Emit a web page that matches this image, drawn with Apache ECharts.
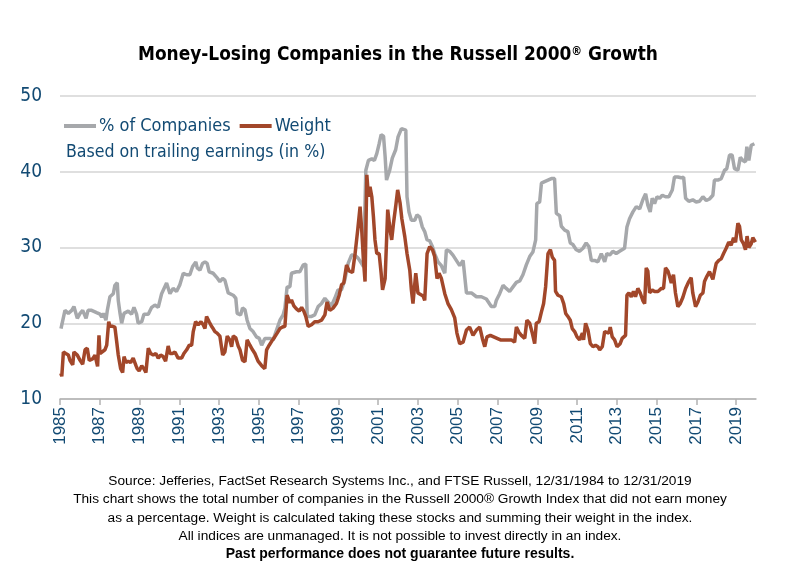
<!DOCTYPE html>
<html>
<head>
<meta charset="utf-8">
<script src="https://cdn.jsdelivr.net/npm/echarts@6/dist/echarts.min.js"></script>
<style>html,body{margin:0;padding:0;background:#fff}#c{width:800px;height:587px}</style>
</head>
<body>
<div id="c"></div>
<script>
// % of Companies: decimal year, value (%)
const pctYears = [1985.05,1985.25,1985.42,1985.59,1985.70,1985.87,1986.01,1986.14,1986.31,1986.41,1986.59,1986.84,1987.01,1987.10,1987.18,1987.31,1987.38,1987.51,1987.68,1987.76,1987.88,1987.93,1988.02,1988.10,1988.22,1988.43,1988.60,1988.72,1988.85,1988.93,1989.11,1989.22,1989.44,1989.61,1989.77,1989.94,1990.11,1990.36,1990.53,1990.69,1990.86,1991.03,1991.20,1991.37,1991.53,1991.67,1991.83,1991.90,1992.04,1992.17,1992.29,1992.40,1992.50,1992.70,1992.87,1993.04,1993.18,1993.29,1993.46,1993.71,1993.84,1993.91,1994.08,1994.18,1994.30,1994.41,1994.55,1994.71,1994.88,1995.02,1995.14,1995.30,1995.55,1995.64,1995.72,1995.89,1996.06,1996.22,1996.31,1996.42,1996.56,1996.64,1996.89,1997.06,1997.23,1997.36,1997.43,1997.65,1997.81,1997.98,1998.15,1998.32,1998.48,1998.65,1998.82,1998.98,1999.15,1999.32,1999.49,1999.66,1999.82,1999.99,2000.16,2000.26,2000.38,2000.51,2000.68,2000.81,2000.93,2001.05,2001.15,2001.27,2001.35,2001.42,2001.58,2001.71,2001.88,2002.00,2002.17,2002.39,2002.45,2002.55,2002.67,2002.84,2002.95,2003.09,2003.22,2003.34,2003.46,2003.59,2003.73,2003.84,2004.01,2004.18,2004.35,2004.43,2004.60,2004.76,2004.93,2005.10,2005.27,2005.44,2005.69,2005.94,2006.19,2006.44,2006.69,2006.86,2006.94,2007.11,2007.28,2007.44,2007.61,2007.78,2007.95,2008.12,2008.28,2008.45,2008.62,2008.78,2008.92,2008.98,2009.12,2009.21,2009.37,2009.54,2009.71,2009.87,2009.96,2010.13,2010.21,2010.38,2010.54,2010.66,2010.79,2010.96,2011.13,2011.30,2011.46,2011.60,2011.72,2011.88,2012.05,2012.22,2012.39,2012.50,2012.64,2012.80,2012.97,2013.14,2013.39,2013.51,2013.64,2013.81,2013.98,2014.15,2014.31,2014.45,2014.56,2014.68,2014.78,2014.90,2015.02,2015.15,2015.29,2015.45,2015.62,2015.79,2015.90,2016.07,2016.24,2016.36,2016.46,2016.62,2016.82,2016.99,2017.16,2017.33,2017.50,2017.66,2017.83,2017.91,2018.08,2018.25,2018.42,2018.53,2018.67,2018.80,2018.92,2019.09,2019.21,2019.34,2019.47,2019.54,2019.64,2019.76,2019.92];
const pctValues = [19.3,21.7,21.3,21.7,22.2,20.65,21.3,21.7,20.65,21.7,21.7,21.4,21.2,20.8,21.3,20.4,21.7,23.5,23.9,25.0,25.35,23.0,21.3,20.0,21.3,21.6,21.2,22.1,21.2,20.0,20.2,21.2,21.2,22.1,22.4,22.1,23.9,25.3,23.9,24.6,24.2,25.1,26.6,26.4,26.4,27.5,28.1,27.3,27.0,27.9,28.1,27.9,26.8,26.6,26.1,25.5,25.9,25.7,24.0,23.7,23.3,21.3,21.1,22.0,21.8,20.4,19.3,18.9,18.2,18.0,17.1,18.0,18.0,18.2,17.8,19.1,20.4,21.1,22.0,24.8,24.8,26.6,26.8,26.8,27.7,27.8,20.9,20.9,21.1,22.2,22.6,23.3,22.8,22.3,23.3,24.4,24.4,25.7,27.9,29.0,29.0,28.6,27.9,27.5,40.2,41.5,41.7,41.5,42.4,43.7,44.9,44.7,42.0,38.9,40.2,41.8,42.9,44.6,45.7,45.5,36.7,34.7,33.6,33.6,34.3,34.0,32.7,32.1,31.0,30.9,30.1,29.2,28.1,27.6,26.6,29.7,29.5,29.0,28.3,27.6,28.3,24.0,24.0,23.5,23.5,23.2,22.2,22.2,23.0,23.9,25.0,24.6,24.2,24.8,25.4,25.6,26.4,27.7,28.8,29.4,31.0,35.8,36.0,38.5,38.7,38.9,39.1,39.1,34.5,34.2,32.8,32.3,32.1,30.6,30.4,29.7,29.5,29.9,30.6,30.1,28.3,28.3,28.1,29.2,28.1,29.2,29.0,29.5,29.2,29.5,29.9,32.7,33.8,34.7,35.4,35.1,36.3,37.1,35.6,34.7,36.5,35.8,36.7,36.5,36.9,36.7,36.7,37.6,39.3,39.3,39.2,39.3,36.5,36.1,36.3,36.0,36.1,36.7,36.2,36.4,36.9,38.9,38.9,39.1,40.2,40.4,42.2,42.2,40.4,40.2,41.9,41.5,41.3,43.3,41.5,43.5,43.7];

// Weight: decimal year, value (%)
const wtYears = [1985.04,1985.09,1985.17,1985.29,1985.42,1985.50,1985.64,1985.70,1985.87,1986.01,1986.14,1986.26,1986.37,1986.47,1986.64,1986.76,1986.84,1986.89,1986.96,1987.01,1987.10,1987.26,1987.35,1987.45,1987.51,1987.65,1987.76,1987.85,1987.93,1988.05,1988.15,1988.22,1988.32,1988.43,1988.55,1988.68,1988.82,1988.88,1988.98,1989.11,1989.22,1989.32,1989.44,1989.56,1989.69,1989.82,1989.94,1990.06,1990.19,1990.31,1990.44,1990.53,1990.66,1990.78,1990.94,1991.12,1991.23,1991.37,1991.50,1991.62,1991.70,1991.82,1991.95,1992.09,1992.20,1992.29,1992.37,1992.50,1992.62,1992.70,1992.79,1992.90,1993.04,1993.18,1993.29,1993.41,1993.54,1993.63,1993.71,1993.84,1993.96,1994.05,1994.18,1994.30,1994.41,1994.55,1994.68,1994.80,1994.96,1995.14,1995.30,1995.39,1995.52,1995.69,1995.80,1995.92,1996.06,1996.19,1996.31,1996.42,1996.56,1996.64,1996.76,1996.89,1997.03,1997.15,1997.26,1997.36,1997.48,1997.65,1997.81,1997.98,1998.15,1998.32,1998.43,1998.57,1998.73,1998.90,1999.04,1999.16,1999.27,1999.41,1999.54,1999.71,1999.84,1999.97,2000.09,2000.18,2000.26,2000.34,2000.43,2000.51,2000.59,2000.68,2000.76,2000.84,2000.93,2001.05,2001.15,2001.22,2001.35,2001.48,2001.60,2001.68,2001.77,2001.88,2001.98,2002.10,2002.19,2002.27,2002.34,2002.45,2002.59,2002.67,2002.75,2002.89,2003.00,2003.13,2003.26,2003.34,2003.46,2003.59,2003.73,2003.84,2003.96,2004.06,2004.18,2004.35,2004.51,2004.68,2004.85,2004.96,2005.10,2005.27,2005.44,2005.60,2005.77,2005.94,2006.11,2006.24,2006.36,2006.47,2006.64,2006.81,2006.98,2007.15,2007.31,2007.53,2007.70,2007.86,2007.95,2008.08,2008.20,2008.37,2008.48,2008.62,2008.75,2008.87,2008.95,2009.09,2009.21,2009.32,2009.42,2009.54,2009.66,2009.76,2009.87,2009.92,2010.04,2010.21,2010.33,2010.43,2010.54,2010.66,2010.76,2010.88,2011.00,2011.13,2011.27,2011.33,2011.43,2011.55,2011.67,2011.80,2011.93,2012.05,2012.14,2012.27,2012.39,2012.47,2012.60,2012.67,2012.77,2012.89,2013.01,2013.11,2013.17,2013.27,2013.44,2013.51,2013.61,2013.73,2013.84,2013.94,2014.06,2014.18,2014.31,2014.40,2014.48,2014.56,2014.65,2014.78,2014.90,2015.07,2015.24,2015.35,2015.45,2015.57,2015.65,2015.74,2015.85,2015.95,2016.07,2016.19,2016.32,2016.46,2016.62,2016.74,2016.82,2016.96,2017.08,2017.20,2017.33,2017.41,2017.53,2017.66,2017.83,2017.91,2018.00,2018.13,2018.25,2018.37,2018.50,2018.63,2018.75,2018.87,2018.97,2019.09,2019.17,2019.26,2019.37,2019.47,2019.55,2019.64,2019.76,2019.84,2019.97];
const wtValues = [13.4,13.0,16.2,16.0,15.8,15.1,14.5,16.2,15.8,15.1,14.6,16.5,16.7,15.1,15.3,15.8,16.0,14.3,18.4,16.0,15.8,16.5,17.1,20.2,19.6,19.6,19.5,17.6,15.8,14.0,13.5,15.6,14.8,15.0,14.8,15.4,14.4,14.0,13.7,14.4,14.0,13.5,16.7,16.0,15.8,16.0,15.4,15.8,15.6,15.0,17.0,16.0,16.0,16.2,15.4,15.4,16.0,16.5,17.1,17.1,18.9,20.2,19.8,20.2,19.8,19.3,20.9,20.2,19.6,19.3,18.9,18.7,18.3,15.8,16.2,18.3,17.8,16.9,18.3,18.1,17.0,16.5,15.1,14.9,17.8,17.1,16.5,16.0,15.0,14.4,14.0,16.5,17.1,17.8,18.2,18.7,19.3,19.5,19.6,23.7,22.7,23.1,22.3,21.9,21.6,22.1,21.6,20.9,19.6,19.8,20.2,20.2,20.4,21.1,22.8,21.7,22.0,22.6,23.7,25.1,25.3,27.7,26.9,26.7,29.2,32.3,35.4,32.0,28.3,25.5,39.6,36.7,38.0,36.7,34.1,31.0,29.2,29.2,26.6,24.4,25.9,35.0,32.3,31.0,33.2,35.4,37.6,35.9,33.8,34.0,31.4,29.2,27.0,24.4,22.6,26.6,24.0,23.8,23.6,23.0,29.2,30.1,29.7,28.8,25.9,26.6,25.9,23.9,22.6,21.8,20.7,18.7,17.3,17.5,19.1,19.5,18.4,19.1,19.5,18.0,16.9,18.2,18.4,18.2,18.0,17.8,17.8,17.8,17.8,17.5,19.5,18.8,18.4,18.0,20.4,20.0,18.7,17.3,20.0,20.2,21.5,22.6,24.8,29.2,29.7,28.7,28.3,24.2,23.7,23.5,22.6,21.3,20.9,20.4,19.3,18.9,18.2,17.8,18.7,17.8,20.0,19.1,17.3,16.9,17.1,16.9,16.5,16.9,18.9,18.7,18.7,19.5,18.2,17.8,16.9,16.7,17.3,18.0,18.4,23.7,24.0,23.5,24.2,23.5,24.6,24.0,23.0,22.6,27.3,26.9,24.0,24.4,24.2,24.2,24.6,24.6,27.3,26.9,26.2,25.3,26.4,24.0,22.2,22.6,23.4,24.6,25.5,26.0,24.0,22.2,22.8,23.7,24.0,25.5,26.2,26.8,25.8,26.8,27.9,28.3,28.5,29.2,29.9,30.7,30.3,31.3,30.7,33.2,32.8,31.0,30.5,29.7,31.5,30.0,30.5,31.3,30.7];

const xStartYear = 1985;
const xEndYear = 2020;
const yTicks = [10, 20, 30, 40, 50];
const seriesNames = ['% of Companies', 'Weight'];
const footerLines = [
  'Source: Jefferies, FactSet Research Systems Inc., and FTSE Russell, 12/31/1984 to 12/31/2019',
  'This chart shows the total number of companies in the Russell 2000\u00AE Growth Index that did not earn money',
  'as a percentage. Weight is calculated taking these stocks and summing their weight in the index.',
  'All indices are unmanaged. It is not possible to invest directly in an index.'
];
const footerBold = 'Past performance does not guarantee future results.';

const blue = '#124a73';
const cond = '"DejaVu Sans Condensed","Liberation Sans Narrow",sans-serif';
const arial = '"Liberation Sans", Arial, sans-serif';

const toPts = (xs, vs) => xs.map((x, i) => [x - xStartYear, vs[i]]);

const footerTitles = footerLines.map((t, i) => ({
  text: t, left: 'center', top: 469 + i * 18.4,
  textStyle: {fontFamily: arial, fontWeight: 'normal', fontSize: 13.7, color: '#000'}
}));

const chart = echarts.init(document.getElementById('c'), null, {renderer: 'canvas'});
chart.setOption({
  backgroundColor: '#fff',
  animation: false,
  title: [
    {
      text: 'Money-Losing Companies in the Russell 2000{sup|\u00AE} Growth',
      left: 133, top: 41,
      textStyle: {
        fontFamily: cond, fontWeight: 'bold', fontSize: 18.9, color: '#000',
        rich: {sup: {fontSize: 12, fontWeight: 'bold', color: '#000', verticalAlign: 'top', padding: [0,0,7,0], fontFamily: cond}}
      }
    },
    {
      text: 'Based on trailing earnings (in %)',
      left: 61, top: 138,
      textStyle: {fontFamily: cond, fontWeight: 'normal', fontSize: 17.6, color: blue}
    },
    ...footerTitles,
    {
      text: footerBold,
      left: 'center', top: 542,
      textStyle: {fontFamily: arial, fontWeight: 'bold', fontSize: 14, color: '#000'}
    }
  ],
  legend: {
    left: 59, top: 112,
    icon: 'rect', itemWidth: 32, itemHeight: 4, itemGap: 9,
    data: seriesNames,
    textStyle: {fontFamily: cond, fontSize: 18, color: blue, padding: [0,0,0,-2]}
  },
  grid: {left: 60, right: 44, top: 96, bottom: 188, containLabel: false},
  xAxis: {
    type: 'value', min: 0, max: xEndYear - xStartYear, interval: 2,
    axisLine: {show: true, lineStyle: {color: '#b3b3b3', width: 1.5}},
    axisTick: {show: true, length: 6, lineStyle: {color: '#b3b3b3', width: 1.5}},
    splitLine: {show: false},
    axisLabel: {
      rotate: 90, margin: 8, showMaxLabel: false,
      fontFamily: arial, fontSize: 17, color: blue,
      formatter: v => String(xStartYear + v)
    }
  },
  yAxis: {
    type: 'value', min: yTicks[0], max: yTicks[yTicks.length - 1], interval: 10,
    axisLine: {show: false}, axisTick: {show: false},
    splitLine: {show: true, lineStyle: {color: '#d4d4d4', width: 1.5}},
    axisLabel: {fontFamily: cond, fontSize: 19, color: blue, margin: 18}
  },
  series: [
    {
      name: seriesNames[0], type: 'line', symbol: 'none', data: toPts(pctYears, pctValues),
      lineStyle: {color: '#a6a8ab', width: 3.5}, itemStyle: {color: '#a6a8ab'}, z: 2
    },
    {
      name: seriesNames[1], type: 'line', symbol: 'none', data: toPts(wtYears, wtValues),
      lineStyle: {color: '#a2472a', width: 3.5}, itemStyle: {color: '#a2472a'}, z: 3
    }
  ]
});
</script>
</body>
</html>
